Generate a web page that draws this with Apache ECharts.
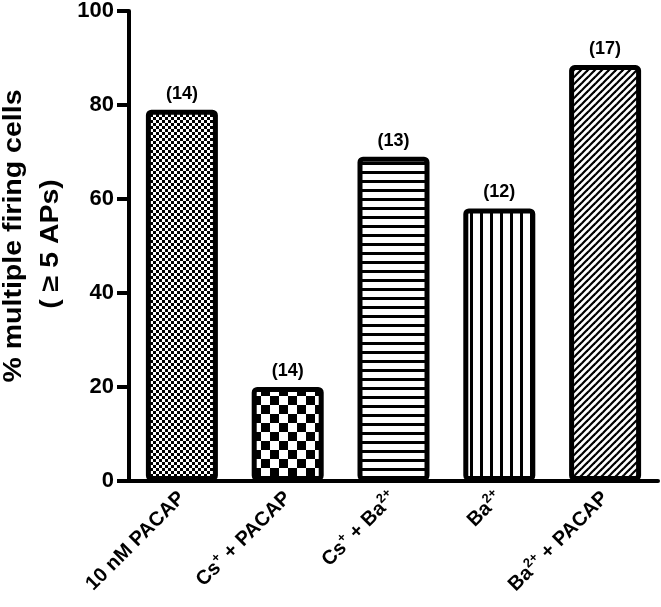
<!DOCTYPE html>
<html>
<head>
<meta charset="utf-8">
<script src="https://cdn.jsdelivr.net/npm/echarts@6/dist/echarts.min.js"></script>
<style>html,body{margin:0;padding:0;background:#fff}#c{width:661px;height:607px}</style>
</head>
<body>
<div id="c"></div>
<script>
const categories = ['10 nM PACAP', 'Cs+ + PACAP', 'Cs+ + Ba2+', 'Ba2+', 'Ba2+ + PACAP'];
const categoryLabels = ['10 nM PACAP', 'Cs{sup|+} + PACAP', 'Cs{sup|+} + Ba{sup|2+}', 'Ba{sup|2+}', 'Ba{sup|2+} + PACAP'];
const values = [79, 20, 69, 58, 88.5];
const nLabels = ['(14)', '(14)', '(13)', '(12)', '(17)'];
const yTicks = [0, 20, 40, 60, 80, 100];

function mk(w, h, draw) {
  const c = document.createElement('canvas');
  c.width = w; c.height = h;
  const g = c.getContext('2d');
  g.fillStyle = '#fff'; g.fillRect(0, 0, w, h);
  g.fillStyle = '#000'; g.strokeStyle = '#000';
  draw(g);
  return c;
}
const patFine = mk(6, 6, g => { g.fillRect(0, 0, 3, 3); g.fillRect(3, 3, 3, 3); });
const patCoarse = mk(18, 18, g => { g.fillRect(0, 0, 9, 9); g.fillRect(9, 9, 9, 9); });
const patHoriz = mk(4, 9, g => { g.fillRect(0, 0, 4, 3); });
const patVert = mk(10, 4, g => { g.fillRect(0, 0, 3, 4); });
const patDiag = mk(7, 7, g => {
  g.lineWidth = 2.2;
  g.beginPath(); g.moveTo(-2, 9); g.lineTo(9, -2); g.stroke();
  g.beginPath(); g.moveTo(-2, 2); g.lineTo(2, -2); g.stroke();
  g.beginPath(); g.moveTo(5, 9); g.lineTo(9, 5); g.stroke();
});
const patterns = [patFine, patCoarse, patHoriz, patVert, patDiag];

const font = 'Liberation Sans, Arial, sans-serif';
const chart = echarts.init(document.getElementById('c'), null, {renderer: 'canvas'});
chart.setOption({
  animation: false,
  grid: {left: 129, right: 3, top: 6, bottom: 126, containLabel: false},
  xAxis: {
    type: 'category',
    data: categories,
    axisLine: {lineStyle: {color: '#000', width: 4}},
    axisTick: {alignWithLabel: true, length: 12, lineStyle: {color: '#000', width: 4}},
    axisLabel: {
      rotate: 45, margin: 14, color: '#000', fontFamily: font, fontWeight: 'bold', fontSize: 20,
      formatter: (v, i) => categoryLabels[i],
      rich: {sup: {fontSize: 13, fontWeight: 'bold', fontFamily: font, color: '#000', padding: [0, 0, 12, 0]}}
    }
  },
  yAxis: {
    type: 'value', min: 0, max: 100, interval: 20,
    axisLine: {show: true, lineStyle: {color: '#000', width: 4}},
    axisTick: {show: true, length: 12, lineStyle: {color: '#000', width: 4}},
    splitLine: {show: false},
    axisLabel: {margin: 15, color: '#000', fontFamily: font, fontWeight: 'bold', fontSize: 22}
  },
  graphic: [
    {type: 'text', x: 14, y: 236, rotation: Math.PI / 2, scaleX: 1.14,
     style: {text: '% multiple firing cells', font: 'bold 25px ' + font, fill: '#000', align: 'center', verticalAlign: 'middle'}},
    {type: 'text', x: 51, y: 244, rotation: Math.PI / 2, scaleX: 1.14,
     style: {text: '( \u2265 5 APs)', font: 'bold 25px ' + font, fill: '#000', align: 'center', verticalAlign: 'middle'}}
  ],
  series: [{
    type: 'bar',
    barWidth: 72,
    data: values.map((v, i) => ({
      value: v,
      itemStyle: {color: {image: patterns[i], repeat: 'repeat'}},
      label: {formatter: nLabels[i]}
    })),
    itemStyle: {borderColor: '#000', borderWidth: 5, borderRadius: 3},
    label: {show: true, position: 'top', distance: 7, color: '#000', fontFamily: font, fontWeight: 'bold', fontSize: 18}
  }]
});
</script>
</body>
</html>
